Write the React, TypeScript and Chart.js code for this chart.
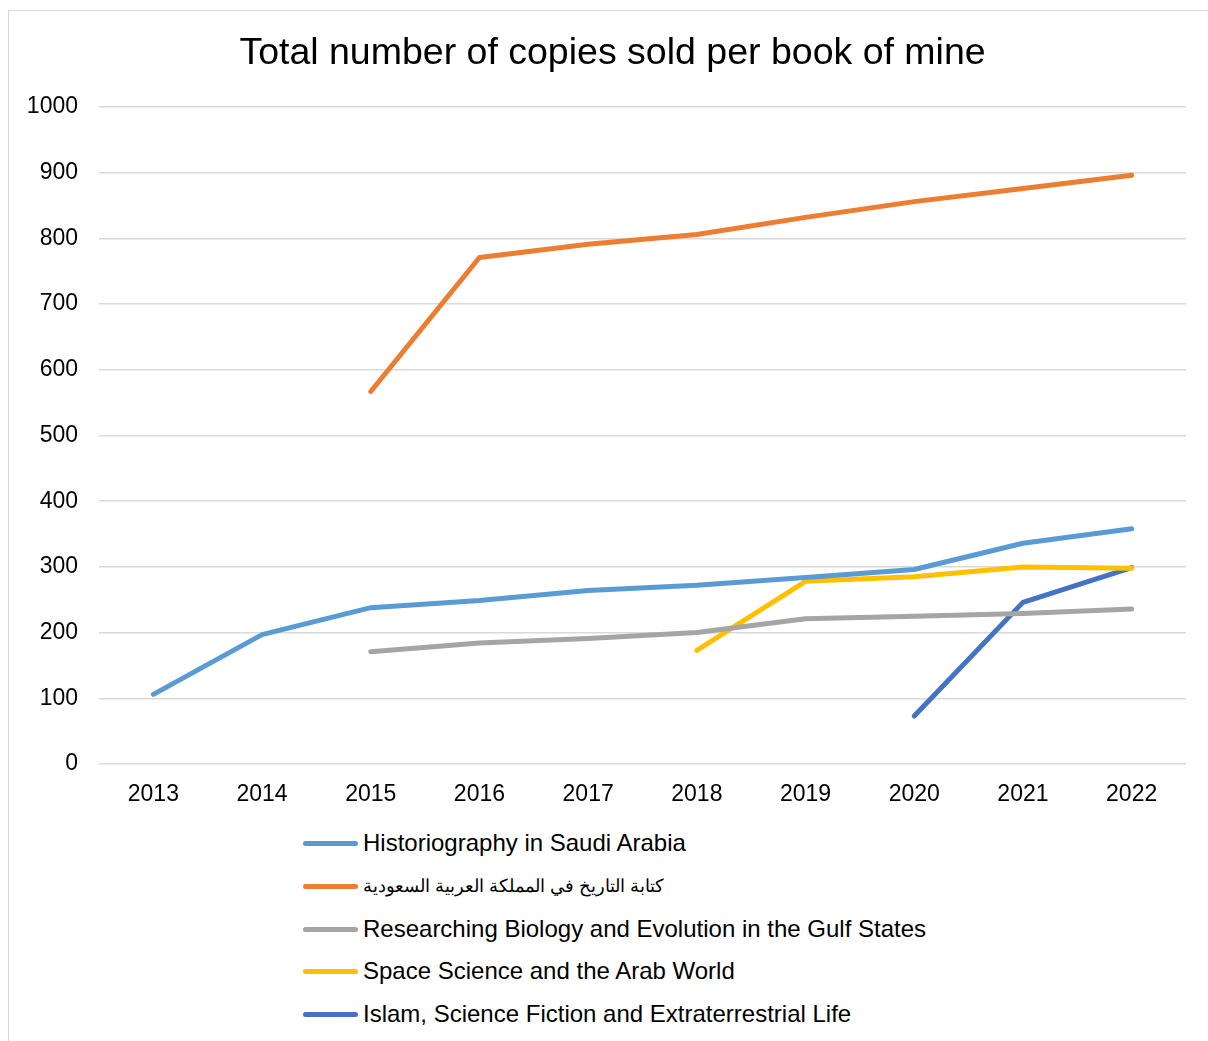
import React, { useEffect, useRef } from "react";
import { Chart, registerables } from "chart.js";

Chart.register(...registerables);

const years = ["2013", "2014", "2015", "2016", "2017", "2018", "2019", "2020", "2021", "2022"];
const historiography = [106, 197, 238, 249, 264, 272, 284, 296, 336, 358];
const arabicHistory = [null, null, 567, 771, 791, 806, 832, 856, 876, 896];
const biology = [null, null, 171, 184, 191, 200, 221, 225, 229, 236];
const spaceScience = [null, null, null, null, null, 173, 278, 285, 300, 298];
const islamSciFi = [null, null, null, null, null, null, null, 73, 246, 299];

const seriesNames = [
  "Historiography in Saudi Arabia",
  "كتابة التاريخ في المملكة العربية السعودية",
  "Researching Biology and Evolution in the Gulf States",
  "Space Science and the Arab World",
  "Islam, Science Fiction and Extraterrestrial Life",
];
const seriesColors = ["#5B9BD5", "#ED7D31", "#A5A5A5", "#FFC000", "#4472C4"];
const seriesValues = [historiography, arabicHistory, biology, spaceScience, islamSciFi];
const arabicSeries = [false, true, false, false, false];

const titleText = "Total number of copies sold per book of mine";
const FONT = "'Liberation Sans', Arial, sans-serif";

// shifts the title block so it is centred over the whole frame rather than the padded box
const titleShiftPlugin = {
  id: "titleShift",
  afterLayout(chart: any) {
    const t = chart.titleBlock;
    if (t) {
      t.left += 30;
    }
  },
};

export default function App() {
  const ref = useRef<HTMLCanvasElement | null>(null);

  useEffect(() => {
    if (!ref.current) return;
    const chart = new Chart(ref.current, {
      type: "line",
      data: {
        labels: years,
        datasets: seriesValues.map((vals, i) => ({
          label: seriesNames[i],
          data: vals,
          borderColor: seriesColors[i],
          backgroundColor: seriesColors[i],
          borderWidth: 5,
          borderCapStyle: "round" as const,
          borderJoinStyle: "round" as const,
          pointRadius: 0,
          pointHoverRadius: 0,
          tension: 0,
          spanGaps: false,
        })),
      },
      plugins: [titleShiftPlugin],
      options: {
        animation: false,
        responsive: false,
        maintainAspectRatio: false,
        layout: { padding: { left: 0, right: 22, top: 0, bottom: 0 } },
        plugins: {
          legend: { display: false },
          tooltip: { enabled: false },
          title: {
            display: true,
            text: titleText,
            color: "#000",
            font: { family: FONT, size: 37.5, weight: "normal" as const, lineHeight: 1.2 },
            padding: { top: 20, bottom: 31 },
          },
        },
        scales: {
          x: {
            offset: true,
            grid: { display: false, drawTicks: false },
            border: { display: false },
            ticks: {
              color: "#000",
              padding: 17,
              maxRotation: 0,
              font: { family: FONT, size: 23 },
            },
            afterFit: (s: any) => {
              s.height = 47;
            },
          },
          y: {
            min: 0,
            max: 1000,
            grid: { color: "#d9d9d9", lineWidth: 1.5, drawTicks: false },
            border: { display: false },
            ticks: {
              stepSize: 100,
              color: "#000",
              padding: 21,
              font: { family: FONT, size: 23 },
              callback: (v: any) => String(v),
            },
            afterFit: (s: any) => {
              s.width = 90;
            },
          },
        },
      },
    });
    return () => chart.destroy();
  }, []);

  const rowCenters = [843, 886, 929, 971, 1014];

  return (
    <div
      style={{
        position: "absolute",
        left: 8,
        top: 10,
        width: 1200,
        height: 1031,
        boxSizing: "border-box",
        borderLeft: "1px solid #d9d9d9",
        borderTop: "1px solid #d9d9d9",
        background: "#fff",
        fontFamily: FONT,
      }}
    >
      <canvas ref={ref} width={1199} height={800} style={{ display: "block", width: 1199, height: 800 }} />
      {seriesNames.map((name, i) => (
        <div
          key={name}
          style={{
            position: "absolute",
            left: 294,
            top: rowCenters[i] - 11 - 14,
            height: 28,
            display: "flex",
            alignItems: "center",
            whiteSpace: "nowrap",
          }}
        >
          <span
            style={{
              display: "inline-block",
              width: 55,
              height: 5,
              borderRadius: 3,
              background: seriesColors[i],
              marginRight: 5,
            }}
          />
          <span
            style={{
              fontSize: arabicSeries[i] ? 18.3 : 24,
              lineHeight: "28px",
              color: "#000",
            }}
          >
            {name}
          </span>
        </div>
      ))}
    </div>
  );
}
